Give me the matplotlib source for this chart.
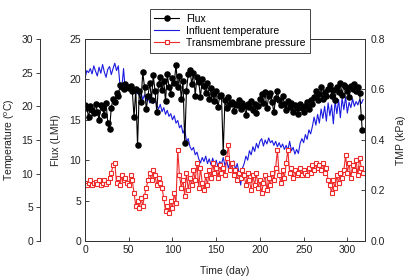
import matplotlib
matplotlib.use("Agg")
import matplotlib.pyplot as plt

plt.rcParams['font.family'] = ['Liberation Sans', 'DejaVu Sans']
plt.rcParams['mathtext.fontset'] = 'custom'
plt.rcParams['mathtext.rm'] = 'Liberation Sans'

# flux (LMH), every 2 days, plus the final point at day 317
flux_days = list(range(0, 318, 2)) + [317]
flux = [
    16.8, 16.5, 15.3, 16.7, 16.2, 15.8, 17.0, 16.0, 15.0, 16.8,   # 0-18
    16.4, 15.6, 17.1, 14.6, 13.8, 16.5, 17.6, 17.2, 18.3, 18.0,   # 20-38
    19.3, 19.1, 18.8, 19.4, 19.0, 18.9, 19.2, 18.6, 15.3, 18.8,   # 40-58
    11.9, 18.5, 17.2, 20.9, 19.0, 16.3, 18.0, 19.6, 17.5, 20.5,   # 60-78
    18.6, 16.0, 19.4, 20.3, 18.7, 19.8, 17.3, 20.6, 19.1, 18.2,   # 80-98
    20.2, 19.5, 21.8, 19.0, 20.4, 17.6, 19.8, 12.1, 18.6, 20.7,   # 100-118
    21.2, 19.4, 20.8, 18.0, 20.3, 19.7, 17.8, 20.0, 19.2, 18.3,   # 120-138
    19.5, 17.6, 18.9, 18.2, 17.3, 18.5, 16.6, 17.9, 18.1, 11.0,   # 140-158
    17.4, 16.5, 17.8, 16.9, 17.2, 16.1, 17.0, 16.8, 17.5, 16.3,   # 160-178
    17.1, 16.7, 15.6, 17.0, 16.6, 17.3, 16.2, 16.9, 15.8, 16.7,   # 180-198
    17.6, 18.2, 17.1, 18.4, 16.4, 17.9, 18.3, 17.2, 15.9, 17.7,   # 200-218
    18.5, 17.4, 16.8, 17.9, 17.0, 16.2, 17.3, 16.6, 17.1, 16.0,   # 220-238
    16.8, 16.4, 15.7, 16.9, 16.5, 15.9, 16.7, 17.2, 16.3, 17.5,   # 240-258
    16.9, 17.8, 18.6, 17.4, 18.2, 19.0, 17.6, 18.4, 17.9, 18.8,   # 260-278
    19.3, 18.0, 18.7, 17.5, 19.1, 18.4, 19.5, 18.1, 19.3, 19.0,   # 280-298
    18.5, 17.8, 19.2, 18.8, 19.4, 18.6, 19.0, 18.3, 15.4, 13.7,   # 300-316, 317
]

# influent temperature (deg C), every 2 days
temp_days = list(range(0, 320, 2))
temperature = [
    24.2, 25.3, 25.0, 25.6, 24.8, 26.0, 25.2, 24.5, 25.8, 24.9,
    26.2, 25.1, 24.3, 25.5, 25.9, 24.7, 25.6, 26.4, 25.3, 26.0,
    23.0, 22.6, 25.6, 22.4, 23.0, 22.5, 22.8, 22.0, 22.6, 21.8,
    22.3, 21.5, 22.1, 21.0, 21.7, 20.8, 21.4, 20.5, 21.2, 20.4,
    21.0, 20.2, 19.6, 20.3, 19.2, 19.8, 18.8, 19.4, 18.5, 18.9,
    18.0, 18.6, 17.5, 17.9, 16.8, 17.2, 16.0, 16.6, 14.8, 15.2,
    14.0, 13.5, 13.9, 12.8, 13.2, 12.2, 11.6, 12.4, 11.8, 12.6,
    11.5, 12.2, 11.3, 12.3, 11.2, 12.0, 11.0, 11.8, 11.4, 12.4,
    11.2, 11.9, 10.8, 11.7, 11.0, 11.9, 10.6, 11.5, 10.2, 8.3,
    10.8, 11.5, 12.6, 12.0, 13.4, 12.8, 14.0, 13.3, 14.5, 13.8,
    14.8, 15.2, 14.1, 15.0, 14.4, 15.3, 14.6, 14.9, 14.2, 14.8,
    14.0, 14.6, 13.9, 14.4, 13.6, 14.2, 13.5, 14.8, 13.4, 13.9,
    12.9, 13.6, 13.0, 14.5, 15.2, 14.6, 15.8, 15.1, 16.5, 15.9,
    17.0, 18.4, 17.2, 18.8, 17.5, 19.6, 18.2, 20.0, 17.8, 20.5,
    18.6, 20.2, 17.4, 20.8, 18.9, 21.0, 18.3, 21.2, 19.5, 21.4,
    19.0, 20.6, 19.8, 21.1, 20.0, 20.7, 20.2, 21.0, 20.4, 21.0,
]

# transmembrane pressure (kPa), every 2 days
tmp_days = list(range(0, 320, 2))
tmp = [
    0.23, 0.22, 0.23, 0.24, 0.22, 0.23, 0.235, 0.225, 0.24, 0.22,
    0.23, 0.24, 0.225, 0.235, 0.25, 0.27, 0.30, 0.31, 0.23, 0.25,
    0.22, 0.26, 0.24, 0.25, 0.23, 0.22, 0.26, 0.24, 0.19, 0.14,
    0.16, 0.13, 0.17, 0.14, 0.18, 0.21, 0.24, 0.27, 0.24, 0.28,
    0.26, 0.22, 0.25, 0.23, 0.21, 0.17, 0.12, 0.14, 0.11, 0.16,
    0.13, 0.19, 0.15, 0.36, 0.26, 0.21, 0.24, 0.18, 0.27, 0.20,
    0.25, 0.22, 0.28, 0.24, 0.31, 0.21, 0.29, 0.23, 0.20, 0.26,
    0.22, 0.28, 0.25, 0.31, 0.27, 0.29, 0.25, 0.30, 0.27, 0.29,
    0.26, 0.33, 0.38, 0.28, 0.31, 0.26, 0.28, 0.24, 0.27, 0.25,
    0.28, 0.26, 0.22, 0.27, 0.24, 0.20, 0.26, 0.22, 0.27, 0.21,
    0.24, 0.19, 0.23, 0.26, 0.20, 0.25, 0.22, 0.27, 0.24, 0.29,
    0.36, 0.26, 0.23, 0.28, 0.25, 0.31, 0.36, 0.27, 0.29, 0.25,
    0.28, 0.26, 0.27, 0.29, 0.26, 0.28, 0.27, 0.26, 0.29, 0.27,
    0.30, 0.28, 0.31, 0.29, 0.30, 0.28, 0.31, 0.27, 0.29, 0.24,
    0.22, 0.19, 0.24, 0.21, 0.26, 0.23, 0.27, 0.25, 0.28, 0.34,
    0.27, 0.31, 0.25, 0.30, 0.28, 0.32, 0.26, 0.33, 0.29, 0.27,
]

txt = '#222222'
fs = 7.5

fig = plt.figure(figsize=(4.09, 2.78), dpi=100)
ax = fig.add_axes([0.208, 0.133, 0.684, 0.727])
ax_tmp = ax.twinx()
ax_temp = ax.twinx()

# temperature axis: detached spine on the far left
ax_temp.spines['left'].set_position(('axes', -0.161))
ax_temp.spines['left'].set_visible(True)
for s in ['right', 'top', 'bottom']:
    ax_temp.spines[s].set_visible(False)
ax_temp.yaxis.set_ticks_position('left')
ax_temp.yaxis.set_label_position('left')

# draw flux on top
ax_temp.set_zorder(1)
ax_tmp.set_zorder(2)
ax.set_zorder(3)
ax.patch.set_visible(False)

l_temp, = ax_temp.plot(temp_days, temperature, color='#1a1ae0', lw=0.8)
l_tmp, = ax_tmp.plot(tmp_days, tmp, color='#ee2a2a', lw=0.8, marker='s',
                     ms=3.5, mfc='white', mec='#ee2a2a', mew=0.8)
l_flux, = ax.plot(flux_days, flux, color='black', lw=0.8, marker='o', ms=3.7)

ax.set_xlim(0, 320)
ax.set_ylim(0, 25)
ax_tmp.set_ylim(0, 0.8)
ax_temp.set_ylim(0, 30)

ax.set_xticks(range(0, 301, 50))
ax.set_yticks(range(0, 26, 5))
ax_tmp.set_yticks([0.0, 0.2, 0.4, 0.6, 0.8])
ax_tmp.set_yticklabels(['0.0', '0.2', '0.4', '0.6', '0.8'])
ax_temp.set_yticks(range(0, 31, 5))

ax.tick_params(direction='in', length=3, width=0.6, labelsize=fs, colors=txt, pad=3)
ax_tmp.tick_params(direction='in', length=3, width=0.6, labelsize=fs, colors=txt, pad=4)
ax_temp.tick_params(direction='out', length=3, width=0.6, labelsize=fs, colors=txt, pad=2)

for a in (ax, ax_tmp, ax_temp):
    for s in a.spines.values():
        s.set_linewidth(0.7)
        s.set_color('#333333')

ax.set_xlabel('Time (day)', fontsize=fs, color=txt, labelpad=8)
ax.set_ylabel('Flux (LMH)', fontsize=fs, color=txt, labelpad=6)
ax_tmp.set_ylabel('TMP (kPa)', fontsize=fs, color=txt, labelpad=8)
ax_temp.set_ylabel('Temperature ($^\\mathrm{o}$C)', fontsize=fs, color=txt, labelpad=3)

leg = fig.legend([l_flux, l_temp, l_tmp],
                 ['Flux', 'Influent temperature', 'Transmembrane pressure'],
                 loc='upper center', bbox_to_anchor=(0.562, 0.978),
                 fontsize=fs, frameon=True, fancybox=False, framealpha=1,
                 edgecolor='#444444', handlelength=2.4, borderpad=0.45,
                 labelspacing=0.2, handletextpad=0.6, borderaxespad=0.3)
leg.get_frame().set_linewidth(0.7)
leg.set_zorder(10)

fig.savefig('out.png', dpi=100)
